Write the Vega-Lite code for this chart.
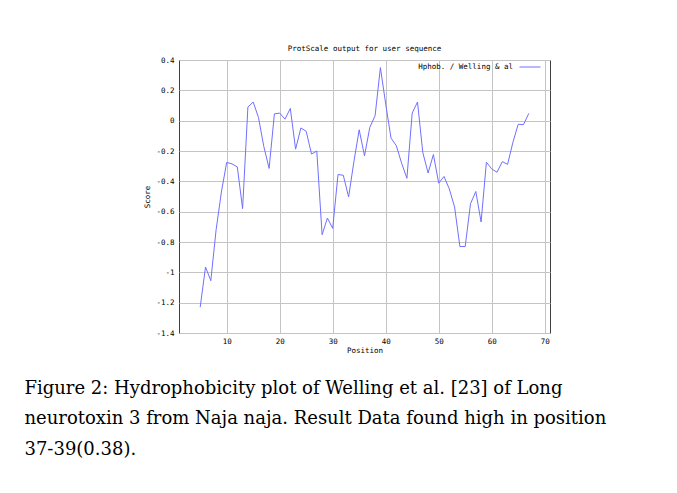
{
  "$schema": "https://vega.github.io/schema/vega-lite/v6.json",
  "padding": {"left": 24, "top": 44, "right": 0, "bottom": 0},
  "background": "white",
  "title": {
    "text": ["Figure 2: Hydrophobicity plot of Welling et al. [23] of Long", "neurotoxin 3 from Naja naja. Result Data found high in position", "37-39(0.38)."],
    "orient": "bottom",
    "anchor": "start",
    "dx": -119,
    "offset": 25,
    "font": "DejaVu Serif",
    "fontSize": 18,
    "fontWeight": "normal",
    "lineHeight": 30.8,
    "color": "#000000"
  },
  "vconcat": [
    {
      "title": {"text": "ProtScale output for user sequence", "font": "DejaVu Sans Mono", "fontSize": 7.5, "fontWeight": "normal", "offset": 3.5, "color": "#000000", "anchor": "middle"},
      "width": 371,
      "height": 273,
      "data": {"values": [
        {"position": 5, "score": -1.23, "series": "Hphob. / Welling & al"},
        {"position": 6, "score": -0.965, "series": "Hphob. / Welling & al"},
        {"position": 7, "score": -1.055, "series": "Hphob. / Welling & al"},
        {"position": 8, "score": -0.72, "series": "Hphob. / Welling & al"},
        {"position": 9, "score": -0.47, "series": "Hphob. / Welling & al"},
        {"position": 10, "score": -0.275, "series": "Hphob. / Welling & al"},
        {"position": 11, "score": -0.285, "series": "Hphob. / Welling & al"},
        {"position": 12, "score": -0.305, "series": "Hphob. / Welling & al"},
        {"position": 13, "score": -0.58, "series": "Hphob. / Welling & al"},
        {"position": 14, "score": 0.09, "series": "Hphob. / Welling & al"},
        {"position": 15, "score": 0.123, "series": "Hphob. / Welling & al"},
        {"position": 16, "score": 0.02, "series": "Hphob. / Welling & al"},
        {"position": 17, "score": -0.17, "series": "Hphob. / Welling & al"},
        {"position": 18, "score": -0.315, "series": "Hphob. / Welling & al"},
        {"position": 19, "score": 0.045, "series": "Hphob. / Welling & al"},
        {"position": 20, "score": 0.05, "series": "Hphob. / Welling & al"},
        {"position": 21, "score": 0.01, "series": "Hphob. / Welling & al"},
        {"position": 22, "score": 0.081, "series": "Hphob. / Welling & al"},
        {"position": 23, "score": -0.188, "series": "Hphob. / Welling & al"},
        {"position": 24, "score": -0.048, "series": "Hphob. / Welling & al"},
        {"position": 25, "score": -0.07, "series": "Hphob. / Welling & al"},
        {"position": 26, "score": -0.22, "series": "Hphob. / Welling & al"},
        {"position": 27, "score": -0.2, "series": "Hphob. / Welling & al"},
        {"position": 28, "score": -0.752, "series": "Hphob. / Welling & al"},
        {"position": 29, "score": -0.642, "series": "Hphob. / Welling & al"},
        {"position": 30, "score": -0.71, "series": "Hphob. / Welling & al"},
        {"position": 31, "score": -0.355, "series": "Hphob. / Welling & al"},
        {"position": 32, "score": -0.36, "series": "Hphob. / Welling & al"},
        {"position": 33, "score": -0.503, "series": "Hphob. / Welling & al"},
        {"position": 34, "score": -0.27, "series": "Hphob. / Welling & al"},
        {"position": 35, "score": -0.06, "series": "Hphob. / Welling & al"},
        {"position": 36, "score": -0.232, "series": "Hphob. / Welling & al"},
        {"position": 37, "score": -0.044, "series": "Hphob. / Welling & al"},
        {"position": 38, "score": 0.033, "series": "Hphob. / Welling & al"},
        {"position": 39, "score": 0.35, "series": "Hphob. / Welling & al"},
        {"position": 40, "score": 0.11, "series": "Hphob. / Welling & al"},
        {"position": 41, "score": -0.115, "series": "Hphob. / Welling & al"},
        {"position": 42, "score": -0.165, "series": "Hphob. / Welling & al"},
        {"position": 43, "score": -0.28, "series": "Hphob. / Welling & al"},
        {"position": 44, "score": -0.38, "series": "Hphob. / Welling & al"},
        {"position": 45, "score": 0.05, "series": "Hphob. / Welling & al"},
        {"position": 46, "score": 0.123, "series": "Hphob. / Welling & al"},
        {"position": 47, "score": -0.21, "series": "Hphob. / Welling & al"},
        {"position": 48, "score": -0.345, "series": "Hphob. / Welling & al"},
        {"position": 49, "score": -0.223, "series": "Hphob. / Welling & al"},
        {"position": 50, "score": -0.412, "series": "Hphob. / Welling & al"},
        {"position": 51, "score": -0.368, "series": "Hphob. / Welling & al"},
        {"position": 52, "score": -0.45, "series": "Hphob. / Welling & al"},
        {"position": 53, "score": -0.57, "series": "Hphob. / Welling & al"},
        {"position": 54, "score": -0.83, "series": "Hphob. / Welling & al"},
        {"position": 55, "score": -0.83, "series": "Hphob. / Welling & al"},
        {"position": 56, "score": -0.548, "series": "Hphob. / Welling & al"},
        {"position": 57, "score": -0.467, "series": "Hphob. / Welling & al"},
        {"position": 58, "score": -0.668, "series": "Hphob. / Welling & al"},
        {"position": 59, "score": -0.274, "series": "Hphob. / Welling & al"},
        {"position": 60, "score": -0.318, "series": "Hphob. / Welling & al"},
        {"position": 61, "score": -0.34, "series": "Hphob. / Welling & al"},
        {"position": 62, "score": -0.27, "series": "Hphob. / Welling & al"},
        {"position": 63, "score": -0.288, "series": "Hphob. / Welling & al"},
        {"position": 64, "score": -0.143, "series": "Hphob. / Welling & al"},
        {"position": 65, "score": -0.024, "series": "Hphob. / Welling & al"},
        {"position": 66, "score": -0.026, "series": "Hphob. / Welling & al"},
        {"position": 67, "score": 0.048, "series": "Hphob. / Welling & al"}
      ]},
      "mark": {"type": "line", "strokeWidth": 1, "interpolate": "linear"},
      "encoding": {
        "x": {
          "field": "position", "type": "quantitative",
          "scale": {"domain": [1, 71], "nice": false, "zero": false},
          "axis": {"values": [10, 20, 30, 40, 50, 60, 70], "title": "Position", "labelPadding": 4, "titlePadding": 2}
        },
        "y": {
          "field": "score", "type": "quantitative",
          "scale": {"domain": [-1.4, 0.4], "nice": false, "zero": false},
          "axis": {"values": [0.4, 0.2, 0, -0.2, -0.4, -0.6, -0.8, -1, -1.2, -1.4], "labelExpr": "'' + datum.value", "title": "Score", "labelPadding": 5, "titlePadding": 4}
        },
        "color": {
          "field": "series", "type": "nominal",
          "scale": {"range": ["#7070ff"]},
          "legend": {
            "title": null, "orient": "none", "legendX": 340, "legendY": -4, "padding": 0,
            "symbolType": "stroke", "symbolSize": 441, "symbolStrokeWidth": 1,
            "labelAlign": "right", "labelOffset": -28,
            "labelFont": "DejaVu Sans Mono", "labelFontSize": 7.5, "labelColor": "#000000"
          }
        }
      }
    }
  ],
  "config": {
    "view": {"stroke": "#404040", "strokeWidth": 1},
    "axis": {
      "domain": false, "ticks": false,
      "grid": true, "gridColor": "#c4c4c4", "gridWidth": 1,
      "labelFont": "DejaVu Sans Mono", "labelFontSize": 7.5, "labelColor": "#000000",
      "titleFont": "DejaVu Sans Mono", "titleFontSize": 7.5, "titleFontWeight": "normal", "titleColor": "#000000"
    }
  }
}
